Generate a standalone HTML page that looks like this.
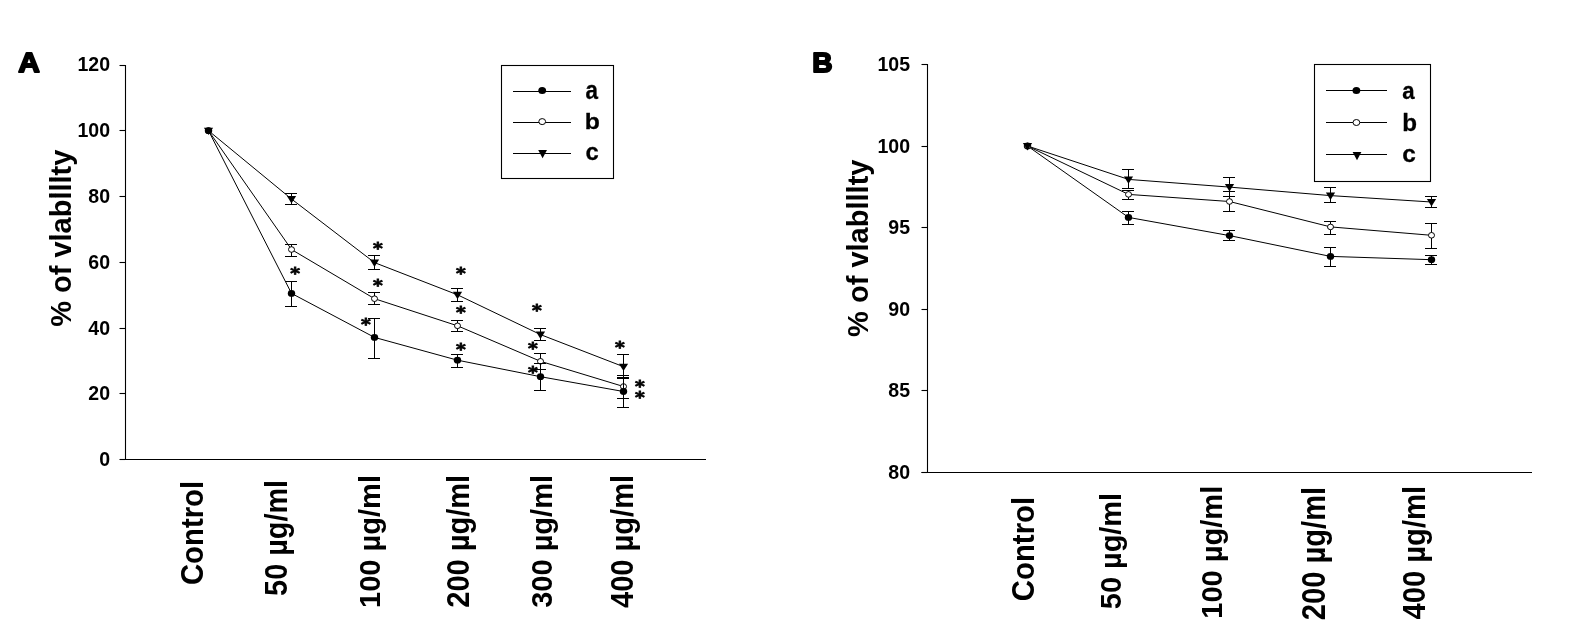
<!DOCTYPE html>
<html><head><meta charset="utf-8"><title>Cell viability charts A and B</title>
<style>
html,body{margin:0;padding:0;background:#fff;}
body{width:1582px;height:637px;overflow:hidden;}
svg{display:block;filter:grayscale(100%);}
text{font-family:"Liberation Sans", Arial, sans-serif;font-weight:bold;fill:#000;}
.st{font-family:"DejaVu Sans",sans-serif;font-size:20.7px;}
</style></head><body>
<svg width="1582" height="637" viewBox="0 0 1582 637">
<rect width="1582" height="637" fill="#fff"/>
<path d="M125.5 65.0V460" stroke="#000" stroke-width="1.1" fill="none"/>
<path d="M119.5 459.5H125.5" stroke="#000" stroke-width="1.1"/>
<path d="M119.5 393.5H125.5" stroke="#000" stroke-width="1.1"/>
<path d="M119.5 328.5H125.5" stroke="#000" stroke-width="1.1"/>
<path d="M119.5 262.5H125.5" stroke="#000" stroke-width="1.1"/>
<path d="M119.5 196.5H125.5" stroke="#000" stroke-width="1.1"/>
<path d="M119.5 130.5H125.5" stroke="#000" stroke-width="1.1"/>
<path d="M119.5 65.5H125.5" stroke="#000" stroke-width="1.1"/>
<path d="M120 459.5H706" stroke="#000" stroke-width="1.1"/>
<path d="M927.5 64.0V473" stroke="#000" stroke-width="1.1" fill="none"/>
<path d="M921.5 472.5H927.5" stroke="#000" stroke-width="1.1"/>
<path d="M921.5 390.5H927.5" stroke="#000" stroke-width="1.1"/>
<path d="M921.5 309.5H927.5" stroke="#000" stroke-width="1.1"/>
<path d="M921.5 227.5H927.5" stroke="#000" stroke-width="1.1"/>
<path d="M921.5 146.5H927.5" stroke="#000" stroke-width="1.1"/>
<path d="M921.5 64.5H927.5" stroke="#000" stroke-width="1.1"/>
<path d="M921.5 472.5H1532" stroke="#000" stroke-width="1.1"/>
<polyline points="208.5,130.7 291.5,293.4 374.5,337.4 457.5,360.2 540.5,376.7 623.5,391.5" fill="none" stroke="#000" stroke-width="1.0"/>
<polyline points="208.5,130.7 291.5,249.5 374.5,298.7 457.5,325.8 540.5,361.3 623.5,386.5" fill="none" stroke="#000" stroke-width="1.0"/>
<polyline points="208.5,130.7 291.5,199.0 374.5,262.6 457.5,294.8 540.5,334.6 623.5,366.7" fill="none" stroke="#000" stroke-width="1.0"/>
<polyline points="1027.5,146.0 1128.5,217.4 1229.5,235.6 1330.5,256.4 1431.5,259.7" fill="none" stroke="#000" stroke-width="1.0"/>
<polyline points="1027.5,146.0 1128.5,194.4 1229.5,201.5 1330.5,226.9 1431.5,235.3" fill="none" stroke="#000" stroke-width="1.0"/>
<polyline points="1027.5,146.0 1128.5,179.4 1229.5,187.1 1330.5,195.6 1431.5,202.0" fill="none" stroke="#000" stroke-width="1.0"/>
<path d="M291.50 244.5V256.5M285.00 244.5H297.00M285.00 256.5H297.00" stroke="#000" stroke-width="1.0" fill="none"/>
<path d="M374.50 292.5V304.5M368.00 292.5H380.00M368.00 304.5H380.00" stroke="#000" stroke-width="1.0" fill="none"/>
<path d="M457.50 320.5V331.5M451.00 320.5H463.00M451.00 331.5H463.00" stroke="#000" stroke-width="1.0" fill="none"/>
<path d="M540.50 353.5V369.5M534.00 353.5H546.00M534.00 369.5H546.00" stroke="#000" stroke-width="1.0" fill="none"/>
<path d="M623.50 375.5V398.5M617.00 375.5H629.00M617.00 398.5H629.00" stroke="#000" stroke-width="1.0" fill="none"/>
<ellipse cx="208.5" cy="130.7" rx="3.0" ry="2.8" fill="#fff" stroke="#000" stroke-width="1.0"/>
<ellipse cx="291.5" cy="249.5" rx="3.0" ry="2.8" fill="#fff" stroke="#000" stroke-width="1.0"/>
<ellipse cx="374.5" cy="298.7" rx="3.0" ry="2.8" fill="#fff" stroke="#000" stroke-width="1.0"/>
<ellipse cx="457.5" cy="325.8" rx="3.0" ry="2.8" fill="#fff" stroke="#000" stroke-width="1.0"/>
<ellipse cx="540.5" cy="361.3" rx="3.0" ry="2.8" fill="#fff" stroke="#000" stroke-width="1.0"/>
<ellipse cx="623.5" cy="386.5" rx="3.0" ry="2.8" fill="#fff" stroke="#000" stroke-width="1.0"/>
<path d="M291.50 281.5V306.5M285.00 281.5H297.00M285.00 306.5H297.00" stroke="#000" stroke-width="1.0" fill="none"/>
<path d="M374.50 318.5V358.5M368.00 318.5H380.00M368.00 358.5H380.00" stroke="#000" stroke-width="1.0" fill="none"/>
<path d="M457.50 354.5V367.5M451.00 354.5H463.00M451.00 367.5H463.00" stroke="#000" stroke-width="1.0" fill="none"/>
<path d="M540.50 363.5V390.5M534.00 363.5H546.00M534.00 390.5H546.00" stroke="#000" stroke-width="1.0" fill="none"/>
<path d="M623.50 377.5V407.5M617.00 377.5H629.00M617.00 407.5H629.00" stroke="#000" stroke-width="1.0" fill="none"/>
<ellipse cx="208.5" cy="130.7" rx="3.7" ry="3.4" fill="#000"/>
<ellipse cx="291.5" cy="293.4" rx="3.7" ry="3.4" fill="#000"/>
<ellipse cx="374.5" cy="337.4" rx="3.7" ry="3.4" fill="#000"/>
<ellipse cx="457.5" cy="360.2" rx="3.7" ry="3.4" fill="#000"/>
<ellipse cx="540.5" cy="376.7" rx="3.7" ry="3.4" fill="#000"/>
<ellipse cx="623.5" cy="391.5" rx="3.7" ry="3.4" fill="#000"/>
<path d="M291.50 193.5V204.5M285.00 193.5H297.00M285.00 204.5H297.00" stroke="#000" stroke-width="1.0" fill="none"/>
<path d="M374.50 255.5V269.5M368.00 255.5H380.00M368.00 269.5H380.00" stroke="#000" stroke-width="1.0" fill="none"/>
<path d="M457.50 288.5V301.5M451.00 288.5H463.00M451.00 301.5H463.00" stroke="#000" stroke-width="1.0" fill="none"/>
<path d="M540.50 328.5V340.5M534.00 328.5H546.00M534.00 340.5H546.00" stroke="#000" stroke-width="1.0" fill="none"/>
<path d="M623.50 354.5V378.5M617.00 354.5H629.00M617.00 378.5H629.00" stroke="#000" stroke-width="1.0" fill="none"/>
<path d="M203.90 127.70H213.10L208.50 135.10Z" fill="#000"/>
<path d="M286.90 196.00H296.10L291.50 203.40Z" fill="#000"/>
<path d="M369.90 259.60H379.10L374.50 267.00Z" fill="#000"/>
<path d="M452.90 291.80H462.10L457.50 299.20Z" fill="#000"/>
<path d="M535.90 331.60H545.10L540.50 339.00Z" fill="#000"/>
<path d="M618.90 363.70H628.10L623.50 371.10Z" fill="#000"/>
<path d="M1128.50 211.5V224.5M1122.00 211.5H1134.00M1122.00 224.5H1134.00" stroke="#000" stroke-width="1.0" fill="none"/>
<path d="M1229.50 230.5V240.5M1223.00 230.5H1235.00M1223.00 240.5H1235.00" stroke="#000" stroke-width="1.0" fill="none"/>
<path d="M1330.50 247.5V266.5M1324.00 247.5H1336.00M1324.00 266.5H1336.00" stroke="#000" stroke-width="1.0" fill="none"/>
<path d="M1431.50 255.5V264.5M1425.00 255.5H1437.00M1425.00 264.5H1437.00" stroke="#000" stroke-width="1.0" fill="none"/>
<ellipse cx="1027.5" cy="146.0" rx="3.7" ry="3.4" fill="#000"/>
<ellipse cx="1128.5" cy="217.4" rx="3.7" ry="3.4" fill="#000"/>
<ellipse cx="1229.5" cy="235.6" rx="3.7" ry="3.4" fill="#000"/>
<ellipse cx="1330.5" cy="256.4" rx="3.7" ry="3.4" fill="#000"/>
<ellipse cx="1431.5" cy="259.7" rx="3.7" ry="3.4" fill="#000"/>
<path d="M1128.50 190.5V199.5M1122.00 190.5H1134.00M1122.00 199.5H1134.00" stroke="#000" stroke-width="1.0" fill="none"/>
<path d="M1229.50 191.5V211.5M1223.00 191.5H1235.00M1223.00 211.5H1235.00" stroke="#000" stroke-width="1.0" fill="none"/>
<path d="M1330.50 221.5V234.5M1324.00 221.5H1336.00M1324.00 234.5H1336.00" stroke="#000" stroke-width="1.0" fill="none"/>
<path d="M1431.50 223.5V248.5M1425.00 223.5H1437.00M1425.00 248.5H1437.00" stroke="#000" stroke-width="1.0" fill="none"/>
<ellipse cx="1027.5" cy="146.0" rx="3.0" ry="2.8" fill="#fff" stroke="#000" stroke-width="1.0"/>
<ellipse cx="1128.5" cy="194.4" rx="3.0" ry="2.8" fill="#fff" stroke="#000" stroke-width="1.0"/>
<ellipse cx="1229.5" cy="201.5" rx="3.0" ry="2.8" fill="#fff" stroke="#000" stroke-width="1.0"/>
<ellipse cx="1330.5" cy="226.9" rx="3.0" ry="2.8" fill="#fff" stroke="#000" stroke-width="1.0"/>
<ellipse cx="1431.5" cy="235.3" rx="3.0" ry="2.8" fill="#fff" stroke="#000" stroke-width="1.0"/>
<path d="M1128.50 169.5V188.5M1122.00 169.5H1134.00M1122.00 188.5H1134.00" stroke="#000" stroke-width="1.0" fill="none"/>
<path d="M1229.50 177.5V196.5M1223.00 177.5H1235.00M1223.00 196.5H1235.00" stroke="#000" stroke-width="1.0" fill="none"/>
<path d="M1330.50 187.5V202.5M1324.00 187.5H1336.00M1324.00 202.5H1336.00" stroke="#000" stroke-width="1.0" fill="none"/>
<path d="M1431.50 196.5V207.5M1425.00 196.5H1437.00M1425.00 207.5H1437.00" stroke="#000" stroke-width="1.0" fill="none"/>
<path d="M1022.90 143.00H1032.10L1027.50 150.40Z" fill="#000"/>
<path d="M1123.90 176.40H1133.10L1128.50 183.80Z" fill="#000"/>
<path d="M1224.90 184.10H1234.10L1229.50 191.50Z" fill="#000"/>
<path d="M1325.90 192.60H1335.10L1330.50 200.00Z" fill="#000"/>
<path d="M1426.90 199.00H1436.10L1431.50 206.40Z" fill="#000"/>
<rect x="501.5" y="65.5" width="112.00" height="113.00" fill="none" stroke="#000" stroke-width="1.1"/>
<path d="M513 91.5H571" stroke="#000" stroke-width="1.0"/>
<ellipse cx="542.2" cy="90.6" rx="3.9" ry="3.5" fill="#000"/>
<path d="M513 122.5H571" stroke="#000" stroke-width="1.0"/>
<ellipse cx="542.2" cy="121.6" rx="3.4" ry="3.0" fill="#fff" stroke="#000" stroke-width="1.0"/>
<path d="M513 153.5H571" stroke="#000" stroke-width="1.0"/>
<path d="M538.20 150.00H547.00L542.60 158.20Z" fill="#000"/>
<rect x="1314.5" y="64.5" width="116.00" height="117.00" fill="none" stroke="#000" stroke-width="1.1"/>
<path d="M1326 90.5H1387" stroke="#000" stroke-width="1.0"/>
<ellipse cx="1356.4" cy="90.5" rx="3.9" ry="3.5" fill="#000"/>
<path d="M1326 122.5H1387" stroke="#000" stroke-width="1.0"/>
<ellipse cx="1356.4" cy="122.5" rx="3.4" ry="3.0" fill="#fff" stroke="#000" stroke-width="1.0"/>
<path d="M1326 154.5H1387" stroke="#000" stroke-width="1.0"/>
<path d="M1352.60 152.00H1361.40L1357.00 160.20Z" fill="#000"/>
<text transform="translate(295.2 278.84) scale(0.9 0.78)" class="st" stroke="#000" stroke-width="1.0" text-anchor="middle">*</text>
<text transform="translate(377.9 253.64) scale(0.9 0.78)" class="st" stroke="#000" stroke-width="1.0" text-anchor="middle">*</text>
<text transform="translate(377.9 290.64) scale(0.9 0.78)" class="st" stroke="#000" stroke-width="1.0" text-anchor="middle">*</text>
<text transform="translate(366 329.54) scale(0.9 0.78)" class="st" stroke="#000" stroke-width="1.0" text-anchor="middle">*</text>
<text transform="translate(461 278.74) scale(0.9 0.78)" class="st" stroke="#000" stroke-width="1.0" text-anchor="middle">*</text>
<text transform="translate(461 317.84) scale(0.9 0.78)" class="st" stroke="#000" stroke-width="1.0" text-anchor="middle">*</text>
<text transform="translate(461 354.54) scale(0.9 0.78)" class="st" stroke="#000" stroke-width="1.0" text-anchor="middle">*</text>
<text transform="translate(537 315.54) scale(0.9 0.78)" class="st" stroke="#000" stroke-width="1.0" text-anchor="middle">*</text>
<text transform="translate(533 354.44) scale(0.9 0.78)" class="st" stroke="#000" stroke-width="1.0" text-anchor="middle">*</text>
<text transform="translate(533 377.54) scale(0.9 0.78)" class="st" stroke="#000" stroke-width="1.0" text-anchor="middle">*</text>
<text transform="translate(620 352.64) scale(0.9 0.78)" class="st" stroke="#000" stroke-width="1.0" text-anchor="middle">*</text>
<text transform="translate(640 391.54) scale(0.9 0.78)" class="st" stroke="#000" stroke-width="1.0" text-anchor="middle">*</text>
<text transform="translate(640 402.84) scale(0.9 0.78)" class="st" stroke="#000" stroke-width="1.0" text-anchor="middle">*</text>
<text transform="translate(18.29 71.65) scale(1.1282 1.0191)" font-size="26.5" stroke="#000" stroke-width="1.8" stroke-linejoin="round" text-anchor="start">A</text>
<text transform="translate(812.17 71.65) scale(1.0606 1.0191)" font-size="26.5" stroke="#000" stroke-width="1.8" stroke-linejoin="round" text-anchor="start">B</text>
<text transform="translate(71.38 326.83) rotate(-90) scale(0.9355 0.9545)" font-size="31" text-anchor="start">% of viability</text>
<text transform="translate(868.22 336.93) rotate(-90) scale(0.9367 0.9535)" font-size="31" text-anchor="start">% of viability</text>
<text transform="translate(202.63 585.10) rotate(-90) scale(0.9309 0.9759)" font-size="31.5" text-anchor="start">Control</text>
<text transform="translate(286.58 595.89) rotate(-90) scale(0.9161 0.9860)" font-size="31.5" text-anchor="start">50 µg/ml</text>
<text transform="translate(379.67 607.97) rotate(-90) scale(0.9224 0.9525)" font-size="31.5" text-anchor="start">100 µg/ml</text>
<text transform="translate(469.08 607.76) rotate(-90) scale(0.9222 0.9947)" font-size="31.5" text-anchor="start">200 µg/ml</text>
<text transform="translate(551.67 607.81) rotate(-90) scale(0.9211 0.9519)" font-size="31.5" text-anchor="start">300 µg/ml</text>
<text transform="translate(632.64 607.96) rotate(-90) scale(0.9227 0.9897)" font-size="31.5" text-anchor="start">400 µg/ml</text>
<text transform="translate(1033.87 601.13) rotate(-90) scale(0.9314 0.9757)" font-size="31.5" text-anchor="start">Control</text>
<text transform="translate(1120.81 609.16) rotate(-90) scale(0.9181 0.9555)" font-size="31.5" text-anchor="start">50 µg/ml</text>
<text transform="translate(1222.31 618.76) rotate(-90) scale(0.9225 0.9506)" font-size="31.5" text-anchor="start">100 µg/ml</text>
<text transform="translate(1324.72 620.17) rotate(-90) scale(0.9252 1.0256)" font-size="31.5" text-anchor="start">200 µg/ml</text>
<text transform="translate(1424.64 619.60) rotate(-90) scale(0.9281 1.0190)" font-size="31.5" text-anchor="start">400 µg/ml</text>
<text transform="translate(585.45 98.51) scale(0.8975 1.0015)" font-size="25" stroke="#000" stroke-width="0.3" stroke-linejoin="round" text-anchor="start">a</text>
<text transform="translate(584.68 129.44) scale(0.9906 0.8964)" font-size="25" stroke="#000" stroke-width="0.3" stroke-linejoin="round" text-anchor="start">b</text>
<text transform="translate(585.38 160.40) scale(0.9528 0.9726)" font-size="25" stroke="#000" stroke-width="0.3" stroke-linejoin="round" text-anchor="start">c</text>
<text transform="translate(1402.24 98.56) scale(0.8894 0.9693)" font-size="25" stroke="#000" stroke-width="0.3" stroke-linejoin="round" text-anchor="start">a</text>
<text transform="translate(1402.14 130.93) scale(0.9674 0.9742)" font-size="25" stroke="#000" stroke-width="0.3" stroke-linejoin="round" text-anchor="start">b</text>
<text transform="translate(1402.23 162.09) scale(0.9765 0.9906)" font-size="25" stroke="#000" stroke-width="0.3" stroke-linejoin="round" text-anchor="start">c</text>
<text transform="translate(110.05 466.00) scale(1.0012 0.9918)" font-size="19.5" text-anchor="end">0</text>
<text transform="translate(110.05 400.00) scale(1.0012 0.9918)" font-size="19.5" text-anchor="end">20</text>
<text transform="translate(110.05 335.00) scale(1.0012 0.9918)" font-size="19.5" text-anchor="end">40</text>
<text transform="translate(110.05 269.00) scale(1.0012 0.9918)" font-size="19.5" text-anchor="end">60</text>
<text transform="translate(110.05 203.00) scale(1.0012 0.9918)" font-size="19.5" text-anchor="end">80</text>
<text transform="translate(110.05 137.00) scale(1.0012 0.9918)" font-size="19.5" text-anchor="end">100</text>
<text transform="translate(110.05 70.80) scale(1.0012 0.9918)" font-size="19.5" text-anchor="end">120</text>
<text transform="translate(910.05 479.00) scale(1.0012 0.9918)" font-size="19.5" text-anchor="end">80</text>
<text transform="translate(910.05 397.00) scale(1.0012 0.9918)" font-size="19.5" text-anchor="end">85</text>
<text transform="translate(910.05 316.00) scale(1.0012 0.9918)" font-size="19.5" text-anchor="end">90</text>
<text transform="translate(910.05 234.00) scale(1.0012 0.9918)" font-size="19.5" text-anchor="end">95</text>
<text transform="translate(910.05 153.00) scale(1.0012 0.9918)" font-size="19.5" text-anchor="end">100</text>
<text transform="translate(910.05 71.00) scale(1.0012 0.9918)" font-size="19.5" text-anchor="end">105</text>
<rect x="51.6" y="177.5" width="3.8" height="4"/>
<rect x="51.6" y="193.5" width="3.8" height="4"/>
<rect x="51.6" y="235.5" width="3.8" height="4"/>
<rect x="848.6" y="187.5" width="3.8" height="4"/>
<rect x="848.6" y="203.5" width="3.8" height="4"/>
<rect x="848.6" y="245.5" width="3.8" height="4"/>
</svg>
</body></html>
